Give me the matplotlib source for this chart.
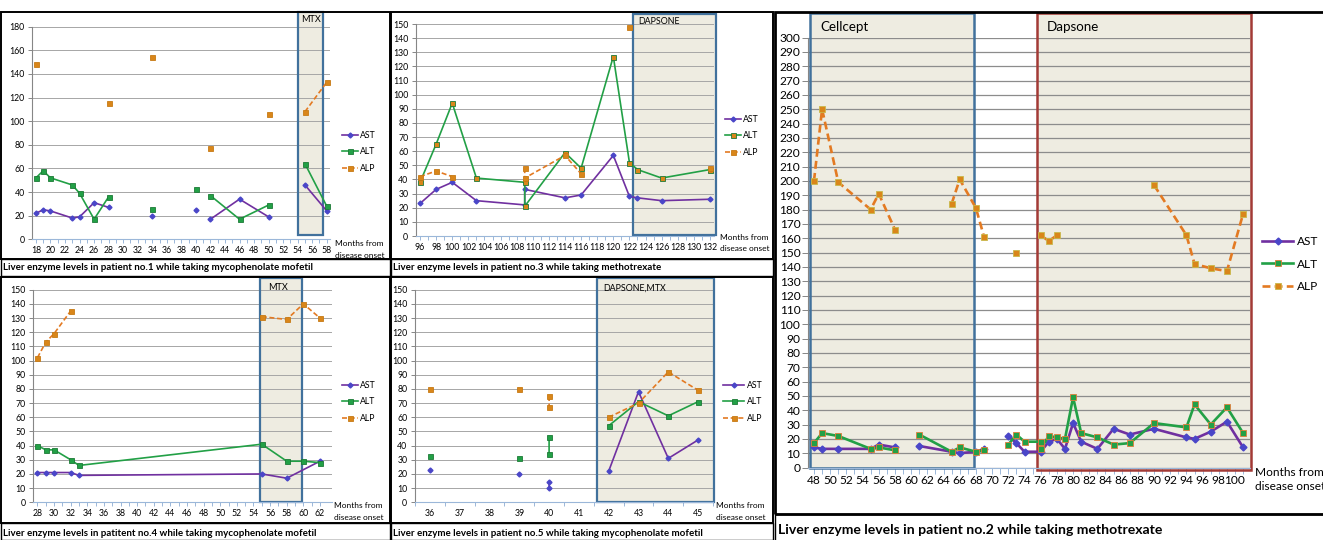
import numpy as np
import matplotlib
matplotlib.use("Agg")
import matplotlib.pyplot as plt
from matplotlib.patches import Rectangle

nan = np.nan

## Data (months from disease onset, enzyme levels)

# patient no.1 - mycophenolate mofetil, then MTX
p1_ast_x = [18, 19, 20, 23, 24, 26, 28, nan, 34, nan, 40, nan, 42, 46, 50, nan, 55, 58]
p1_ast = [22, 25, 24, 18, 19, 31, 27, nan, 20, nan, 25, nan, 17, 34, 19, nan, 46, 24]
p1_alt_x = [18, 19, 20, 23, 24, 26, 28, nan, 34, nan, 40, nan, 42, 46, 50, nan, 55, 58]
p1_alt = [52, 58, 52, 46, 39, 17, 36, nan, 26, nan, 43, nan, 37, 17, 29, nan, 64, 28]
p1_alp_x = [18, nan, 28, nan, 34, nan, 42, nan, 50, nan, 55, 58]
p1_alp = [148, nan, 115, nan, 154, nan, 77, nan, 106, nan, 108, 133]
p1_period = (54.05, 57.5)

# patient no.3 - methotrexate, then dapsone
p3_x = [96, 98, 100, 103, 109, 109, 114, 116, 120, 122, 123, 126, 132]
p3_ast = [23, 33, 38, 25, 22, 33, 27, 29, 57, 28, 27, 25, 26]
p3_alt = [38, 65, 94, 41, 38, 21, 59, 48, 127, 52, 47, 41, 47]
p3_alp_x = [96, 98, 100, nan, 109, 109, 114, 116, nan, 122, nan, 132]
p3_alp = [42, 46, 42, nan, 48, 41, 57, 44, nan, 148, nan, 48]
p3_period = (122.45, 132.75)

# patient no.4 - mycophenolate mofetil, then MTX
p4_ast_x = [28, 29, 30, 32, 33, 55, 58, 62]
p4_ast = [21, 21, 21, 21, 19, 20, 17, 29]
p4_alt_x = [28, 29, 30, 32, 33, 55, 58, 60, 62]
p4_alt = [40, 37, 37, 30, 26, 41, 29, 29, 28]
p4_alp_x = [28, 29, 30, 32, nan, 55, 58, 60, 62]
p4_alp = [102, 113, 119, 135, nan, 131, 129, 140, 130]
p4_period = (54.8, 59.85)

# patient no.5 - mycophenolate mofetil, then dapsone + MTX
p5_x = [36, nan, 39, nan, 40, 40, nan, 42, 43, 44, 45]
p5_ast = [23, nan, 20, nan, 14, 10, nan, 22, 78, 31, 44]
p5_alt = [33, nan, 31, nan, 46, 34, nan, 54, 71, 61, 71]
p5_alp = [80, nan, 80, nan, 75, 67, nan, 60, 70, 92, 79]
p5_period = (41.6, 45.52)

# patient no.2 - cellcept, then dapsone
p2_ast_x = [48, 49, 51, 55, 56, 58, nan, 61, 65, 66, 68, 69, nan, 72, 73, 74, 76, 77, 78,
            79, 80, 81, 83, 85, 87, 90, 94, 95, 97, 99, 101]
p2_ast = [14, 13, 13, 13, 16, 14, nan, 15, 11, 10, 11, 13, nan, 22, 17, 11, 11, 18, 20,
          13, 31, 18, 13, 27, 23, 27, 21, 20, 25, 32, 14]
p2_alt_x = [48, 49, 51, 55, 56, 58, nan, 61, 65, 66, 68, 69, nan, 72, 73, 74, 76, 76, 77, 78,
            79, 80, 81, 83, 85, 87, 90, 94, 95, 97, 99, 101]
p2_alt = [17, 24, 22, 13, 14, 12, nan, 23, 11, 14, 11, 12, nan, 16, 23, 18, 18, 13, 22, 21,
          20, 49, 24, 21, 16, 17, 31, 28, 44, 30, 42, 24]
p2_alp_x = [48, 49, 51, 55, 56, 58, nan, 65, 66, 68, 69, nan, 73, nan, 76, 77, 78, nan,
            90, 94, 95, 97, 99, 101]
p2_alp = [200, 250, 199, 180, 191, 166, nan, 184, 201, 181, 161, nan, 150, nan, 162, 158, 162, nan,
          197, 162, 142, 139, 137, 177]
p2_cellcept = (47.5, 67.8)
p2_dapsone = (75.6, 101.95)

## Figure setup

W, H = 1323, 540
plt.rcParams['font.family'] = ['Lato', 'DejaVu Sans']
fig = plt.figure(figsize=(W / 100, H / 100), dpi=100)

PURPLE = "#7030a0"
BLUE_MK = "#4a46c8"
GREEN = "#22a046"
ORANGE = "#e37a22"
ORANGE_MK = "#d9861a"
FILL = "#eeece1"
GRID = "#a6a6a6"


def fx(x):
    return x / W


def fy(y):
    return 1 - y / H


def px_axes(l, t, r, b):
    ax = fig.add_axes([l / W, 1 - b / H, (r - l) / W, (b - t) / H])
    ax.set_facecolor("none")
    ax.set_axisbelow(True)
    for s in ["top", "right"]:
        ax.spines[s].set_visible(False)
    ax.spines["left"].set_color("#868686")
    ax.spines["bottom"].set_color("#9bb7d9")
    return ax


def frame(l, t, r, b, lw=1.4):
    fig.add_artist(Rectangle((fx(l), fy(b)), (r - l) / W, (b - t) / H,
                             transform=fig.transFigure, fill=False,
                             ec="black", lw=lw, zorder=10))


def add_box(ax, x0, x1, top_px, bot_px, ax_top, ax_bot, ec, lw=1.6):
    trans = ax.get_xaxis_transform()
    f0 = (ax_bot - bot_px) / (ax_bot - ax_top)
    f1 = (ax_bot - top_px) / (ax_bot - ax_top)
    ax.add_patch(Rectangle((x0, f0), x1 - x0, f1 - f0, transform=trans,
                           fc=FILL, ec="none", zorder=0.2, clip_on=False))
    ax.add_patch(Rectangle((x0, f0), x1 - x0, f1 - f0, transform=trans,
                           fill=False, ec=ec, lw=lw, zorder=1.5, clip_on=False))


def plot_series(ax, ast_x, ast, alt_x, alt, alp_x, alp, big=False, alt_face=GREEN, alt_edge="#1c7a36"):
    lw = 1.9 if big else 1.2
    ms = 5 if big else 3.6
    ax.plot(np.array(ast_x, float), np.array(ast, float), color=PURPLE, lw=lw,
            marker="D", ms=ms * 0.7, mfc=BLUE_MK, mec=BLUE_MK, label="AST", zorder=3)
    ax.plot(np.array(alt_x, float), np.array(alt, float), color=GREEN, lw=lw,
            marker="s", ms=ms, mfc=alt_face, mec=alt_edge, mew=0.6, label="ALT", zorder=3)
    ax.plot(np.array(alp_x, float), np.array(alp, float), color=ORANGE, lw=lw,
            ls=(0, (3, 1.6)), marker="s", ms=ms, mfc=ORANGE_MK,
            mec="#c9b84a" if big else "#c77a14", mew=0.6, label="ALP", zorder=3)


def style_axis(ax, xlim, ylim, ystep, xlabels, fs, minor=None, ytick_len=3, xtick_len=3, ypad=2.5, xpad=2.0,
               grid_color=GRID, grid_lw=0.7):
    ax.set_xlim(*xlim)
    ax.set_ylim(*ylim)
    ax.set_yticks(np.arange(ylim[0], ylim[1] + 1, ystep))
    ax.set_xticks(xlabels)
    ax.set_xticklabels([str(v) for v in xlabels])
    if minor is not None:
        ax.set_xticks(minor, minor=True)
    ax.yaxis.grid(True, color=grid_color, lw=grid_lw)
    ax.tick_params(axis="y", labelsize=fs, length=ytick_len, color="#868686", pad=ypad, width=0.7)
    ax.tick_params(axis="x", which="both", labelsize=fs, length=xtick_len, color="#9bb7d9",
                   pad=xpad, width=0.7)


def legend(ax, x_px, y_px, fs, hl, spacing):
    ax.legend(loc="center left", bbox_to_anchor=(fx(x_px), fy(y_px)),
              bbox_transform=fig.transFigure, frameon=False, fontsize=fs,
              handlelength=hl, handletextpad=0.3, labelspacing=spacing,
              borderpad=0, borderaxespad=0, numpoints=1)


def label(x_px, y_px, s, fs, bold=False, ha="left"):
    fig.text(fx(x_px), fy(y_px), s, fontsize=fs, ha=ha, va="center",
             fontweight="bold" if bold else "normal", color="black")


SMALL = 6.3
LEG = 6.3
MONTHS = 6.0
CAP = 7.0

## Frames

frame(1, 12, 390, 259)
frame(1, 259, 390, 276, lw=1.0)
frame(391, 12, 773, 259)
frame(391, 259, 773, 276, lw=1.0)
frame(1, 277, 390, 523)
frame(1, 523, 390, 540, lw=1.0)
frame(391, 277, 773, 523)
frame(391, 523, 773, 540, lw=1.0)
frame(775, 12, 1325, 514, lw=2.0)
frame(775, 514, 1325, 542, lw=1.0)

## Panel: patient no.1

a1 = (32.3, 26.7, 330.4, 239.3)
ax1 = px_axes(*a1)
add_box(ax1, p1_period[0], p1_period[1], 12, 235, a1[1], a1[3], "#41719c")
plot_series(ax1, p1_ast_x, p1_ast, p1_alt_x, p1_alt, p1_alp_x, p1_alp)
style_axis(ax1, (17.5, 58.5), (0, 180), 20, list(range(18, 59, 2)), SMALL,
           minor=list(range(18, 59)))
legend(ax1, 342, 152, LEG, 1.8, 0.9)
label(310.5, 20, "MTX", 6.6, ha="center")
label(335, 244, "Months from", MONTHS)
label(335, 255, "disease onset", MONTHS)
label(3, 268, "Liver enzyme levels in patient no.1 while taking mycophenolate mofetil", CAP, bold=True)

## Panel: patient no.3

a3 = (416, 24, 714, 236)
ax3 = px_axes(*a3)
add_box(ax3, p3_period[0], p3_period[1], 14, 235, a3[1], a3[3], "#41719c")
plot_series(ax3, p3_x, p3_ast, p3_x, p3_alt, p3_alp_x, p3_alp, alt_face=ORANGE_MK, alt_edge="#1c7a36")
style_axis(ax3, (95.5, 132.5), (0, 150), 10, list(range(96, 133, 2)), SMALL,
           minor=list(range(96, 133)))
legend(ax3, 725, 136, LEG, 1.8, 0.9)
label(638, 21, "DAPSONE", 6.4)
label(720, 238, "Months from", MONTHS)
label(720, 248.5, "disease onset", MONTHS)
label(393, 268, "Liver enzyme levels in patient no.3 while taking methotrexate", CAP, bold=True)

## Panel: patient no.4

a4 = (33.3, 289.7, 331.6, 502.3)
ax4 = px_axes(*a4)
add_box(ax4, p4_period[0], p4_period[1], 278, 502, a4[1], a4[3], "#41719c")
plot_series(ax4, p4_ast_x, p4_ast, p4_alt_x, p4_alt, p4_alp_x, p4_alp)
style_axis(ax4, (27.5, 63.4), (0, 150), 10, list(range(28, 63, 2)), SMALL,
           minor=list(range(28, 63)))
legend(ax4, 342, 402, LEG, 1.8, 0.9)
label(268, 288, "MTX", 6.6)
label(334, 506, "Months from", MONTHS)
label(334, 517, "disease onset", MONTHS)
label(3, 533, "Liver enzyme levels in patitent no.4 while taking mycophenolate mofetil", CAP, bold=True)

## Panel: patient no.5

a5 = (415, 289.7, 713, 502.3)
ax5 = px_axes(*a5)
add_box(ax5, p5_period[0], p5_period[1], 278, 502, a5[1], a5[3], "#41719c")
plot_series(ax5, p5_x, p5_ast, p5_x, p5_alt, p5_x, p5_alp)
style_axis(ax5, (35.5, 45.5), (0, 150), 10, list(range(36, 46)), SMALL,
           minor=[v + 0.5 for v in range(35, 46)])
ax5.tick_params(axis="x", which="major", length=0, pad=4.5)
legend(ax5, 723, 402, LEG, 2.4, 0.9)
label(603, 288, "DAPSONE,MTX", 6.4)
label(716, 506, "Months from", MONTHS)
label(716, 518, "disease onset", MONTHS)
label(393, 533, "Liver enzyme levels in patient no.5 while taking mycophenolate mofetil", CAP, bold=True)

## Panel: patient no.2

a2 = (808, 37.5, 1250, 467.5)
ax2 = px_axes(*a2)
add_box(ax2, p2_cellcept[0], p2_cellcept[1], 13, 468, a2[1], a2[3], "#41719c", lw=1.8)
add_box(ax2, p2_dapsone[0], p2_dapsone[1], 13, 470, a2[1], a2[3], "#a33a36", lw=1.8)
plot_series(ax2, p2_ast_x, p2_ast, p2_alt_x, p2_alt, p2_alp_x, p2_alp, big=True,
            alt_face=GREEN, alt_edge="#e07d3a")
style_axis(ax2, (47.26, 101.85), (0, 300), 10, list(range(48, 101, 2)), 8.6,
           minor=list(range(48, 102)), ytick_len=4, xtick_len=4, ypad=1.5, xpad=1.5,
           grid_color="#8c8c8c", grid_lw=0.9)
legend(ax2, 1262, 264, 8.6, 2.6, 0.95)
label(820, 27, "Cellcept", 9.6)
label(1047, 27, "Dapsone", 9.6)
label(1255, 472, "Months from", 8.6)
label(1255, 487, "disease onset", 8.6)
label(778, 530, "Liver enzyme levels in patient no.2 while taking methotrexate", 10.1, bold=True)

fig.savefig("out.png", dpi=100)
